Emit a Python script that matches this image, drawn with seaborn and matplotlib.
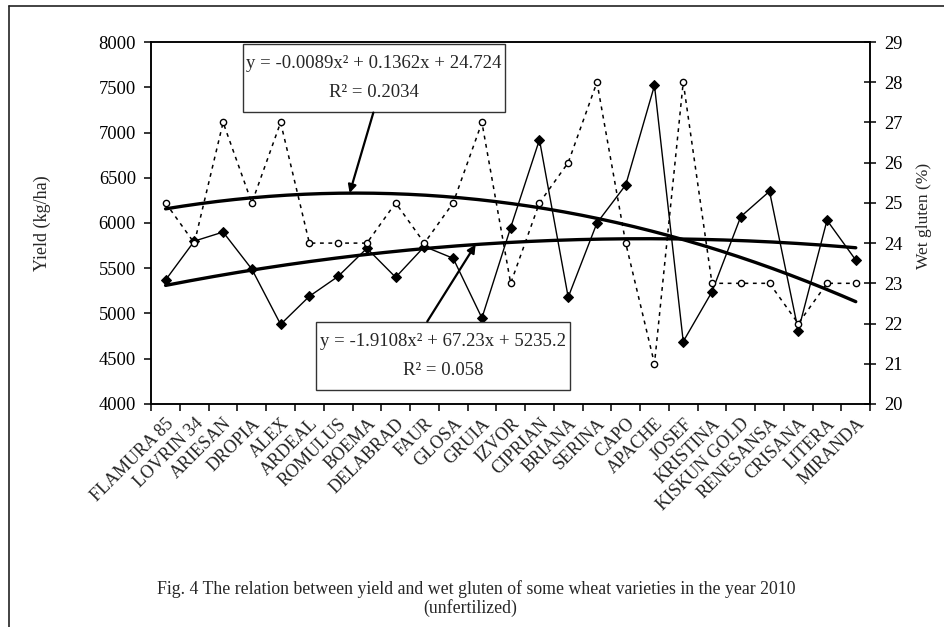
import numpy as np
import pandas as pd
import matplotlib
matplotlib.use("Agg")
import matplotlib.pyplot as plt
from matplotlib.lines import Line2D
from matplotlib.patches import Rectangle
from matplotlib.transforms import ScaledTranslation
import seaborn as sns

# === data ===
varieties = ["FLAMURA 85", "LOVRIN 34", "ARIESAN", "DROPIA", "ALEX", "ARDEAL",
             "ROMULUS", "BOEMA", "DELABRAD", "FAUR", "GLOSA", "GRUIA", "IZVOR",
             "CIPRIAN", "BRIANA", "SERINA", "CAPO", "APACHE", "JOSEF", "KRISTINA",
             "KISKUN GOLD", "RENESANSA", "CRISANA", "LITERA", "MIRANDA"]
yield_kg_ha = [5370, 5800, 5900, 5490, 4880, 5190, 5410, 5720, 5400, 5740, 5610, 4950,
               5950, 6920, 5180, 6000, 6420, 7520, 4690, 5240, 6070, 6350, 4810, 6030, 5590]
wet_gluten = [25, 24, 27, 25, 27, 24, 24, 24, 25, 24, 25, 27, 23,
              25, 26, 28, 24, 21, 28, 23, 23, 23, 22, 23, 23]

yield_eq = "y = -1.9108x² + 67.23x + 5235.2\nR² = 0.058"
gluten_eq = "y = -0.0089x² + 0.1362x + 24.724\nR² = 0.2034"
caption1 = "Fig. 4 The relation between yield and wet gluten of some wheat varieties in the year 2010"
caption2 = "(unfertilized)"

df = pd.DataFrame({"variety": varieties, "yield": yield_kg_ha, "gluten": wet_gluten})
df["pos"] = np.arange(len(df))

# polynomial (order 2) trendlines, x = 1..n like Excel
xn = df["pos"] + 1
c_yield = np.polyfit(xn, df["yield"], 2)
c_gluten = np.polyfit(xn, df["gluten"], 2)
xs = np.linspace(1, len(df), 200)
trend = pd.DataFrame({"pos": xs - 1,
                      "yield": np.polyval(c_yield, xs),
                      "gluten": np.polyval(c_gluten, xs)})

sns.set_style("ticks")
plt.rcParams["font.family"] = ["Liberation Serif", "DejaVu Serif"]
plt.rcParams["axes.linewidth"] = 1.1

fig = plt.figure(figsize=(9.45, 6.27), dpi=100)
ax = fig.add_axes([0.16, 0.3557, 0.7608, 0.5773])
ax2 = ax.twinx()

# yield (left axis)
sns.lineplot(data=df, x="pos", y="yield", ax=ax, color="black", lw=1,
             marker="D", markersize=5, markeredgecolor="black", markerfacecolor="black")
sns.lineplot(data=trend, x="pos", y="yield", ax=ax, color="black", lw=2.4)

# wet gluten (right axis)
sns.lineplot(data=df, x="pos", y="gluten", ax=ax2, color="black", lw=1.1,
             linestyle=(0, (2.5, 3)), marker="o", markersize=4.5,
             markerfacecolor="white", markeredgecolor="black", markeredgewidth=1)
sns.lineplot(data=trend, x="pos", y="gluten", ax=ax2, color="black", lw=2.4)

n = len(df)
ax.set_xlim(-0.5, n - 0.5)
ax.set_ylim(4000, 8000)
ax.set_yticks(np.arange(4000, 8001, 500))
ax2.set_ylim(20, 29)
ax2.set_yticks(np.arange(20, 30, 1))

ax.set_xticks(np.arange(-0.5, n, 1))
ax.set_xticklabels([])
ax.set_xticks(df["pos"], minor=True)
ax.set_xticklabels(varieties, minor=True, rotation=45, ha="right",
                   rotation_mode="anchor", fontsize=13)
shift = ScaledTranslation(-9 / 72, 0, fig.dpi_scale_trans)
for lab in ax.get_xticklabels(minor=True):
    lab.set_transform(lab.get_transform() + shift)
ax.tick_params(axis="x", which="major", length=5, width=1.1, color="black")
ax.tick_params(axis="x", which="minor", length=0, pad=8)
ax.tick_params(axis="y", length=5, width=1.1, pad=6, labelsize=13.3, colors="black")
ax2.tick_params(axis="y", direction="inout", length=8, width=1.1, pad=6,
                labelsize=13.3, colors="black")

ax.set_xlabel("")
ax.set_ylabel("Yield (kg/ha)", fontsize=13)
ax.yaxis.set_label_coords(-0.14, 0.5)
ax2.set_ylabel("Wet gluten (%)", fontsize=12.5)
ax2.yaxis.set_label_coords(1.064, 0.52)
for a in (ax, ax2):
    for s in a.spines.values():
        s.set_visible(True)
        s.set_color("black")
        s.set_linewidth(1.1)

# trendline labels: box, text, arrow
arr = dict(arrowstyle="-|>", color="black", lw=1.6, mutation_scale=12, shrinkA=0, shrinkB=0)
for (x0, y0, w, h), txt in [((0.128, 0.807, 0.364, 0.187), gluten_eq),
                             ((0.2295, 0.0387, 0.3535, 0.188), yield_eq)]:
    ax2.add_patch(Rectangle((x0, y0), w, h, transform=ax2.transAxes, fc="white",
                            ec="#333333", lw=1, zorder=9))
    ax2.text(x0 + w / 2, y0 + h / 2, txt, transform=ax2.transAxes, ha="center",
             va="center", multialignment="center", linespacing=1.9, fontsize=13.5,
             zorder=10)

xg = 6.4
ax2.annotate("", xy=(xg, np.polyval(c_gluten, xg + 1)), xycoords="data",
             xytext=(0.309, 0.805), textcoords="axes fraction", arrowprops=arr, zorder=10)
xy_ = 10.78
ax2.annotate("", xy=(xy_, np.polyval(c_yield, xy_ + 1)), xycoords=ax.transData,
             xytext=(0.384, 0.228), textcoords="axes fraction", arrowprops=arr, zorder=10)

fig.text(0.504, 0.061, caption1, ha="center", va="center", fontsize=12.8)
fig.text(0.498, 0.031, caption2, ha="center", va="center", fontsize=12.8)

# outer frame (left and top edges visible)
fig.add_artist(Line2D([9 / 945, 9 / 945], [0, 1 - 5.5 / 627], color="#222222", lw=1.2,
                      transform=fig.transFigure))
fig.add_artist(Line2D([9 / 945, 1], [1 - 5.5 / 627, 1 - 5.5 / 627], color="#222222", lw=1.2,
                      transform=fig.transFigure))

fig.savefig("out.png", dpi=100)
